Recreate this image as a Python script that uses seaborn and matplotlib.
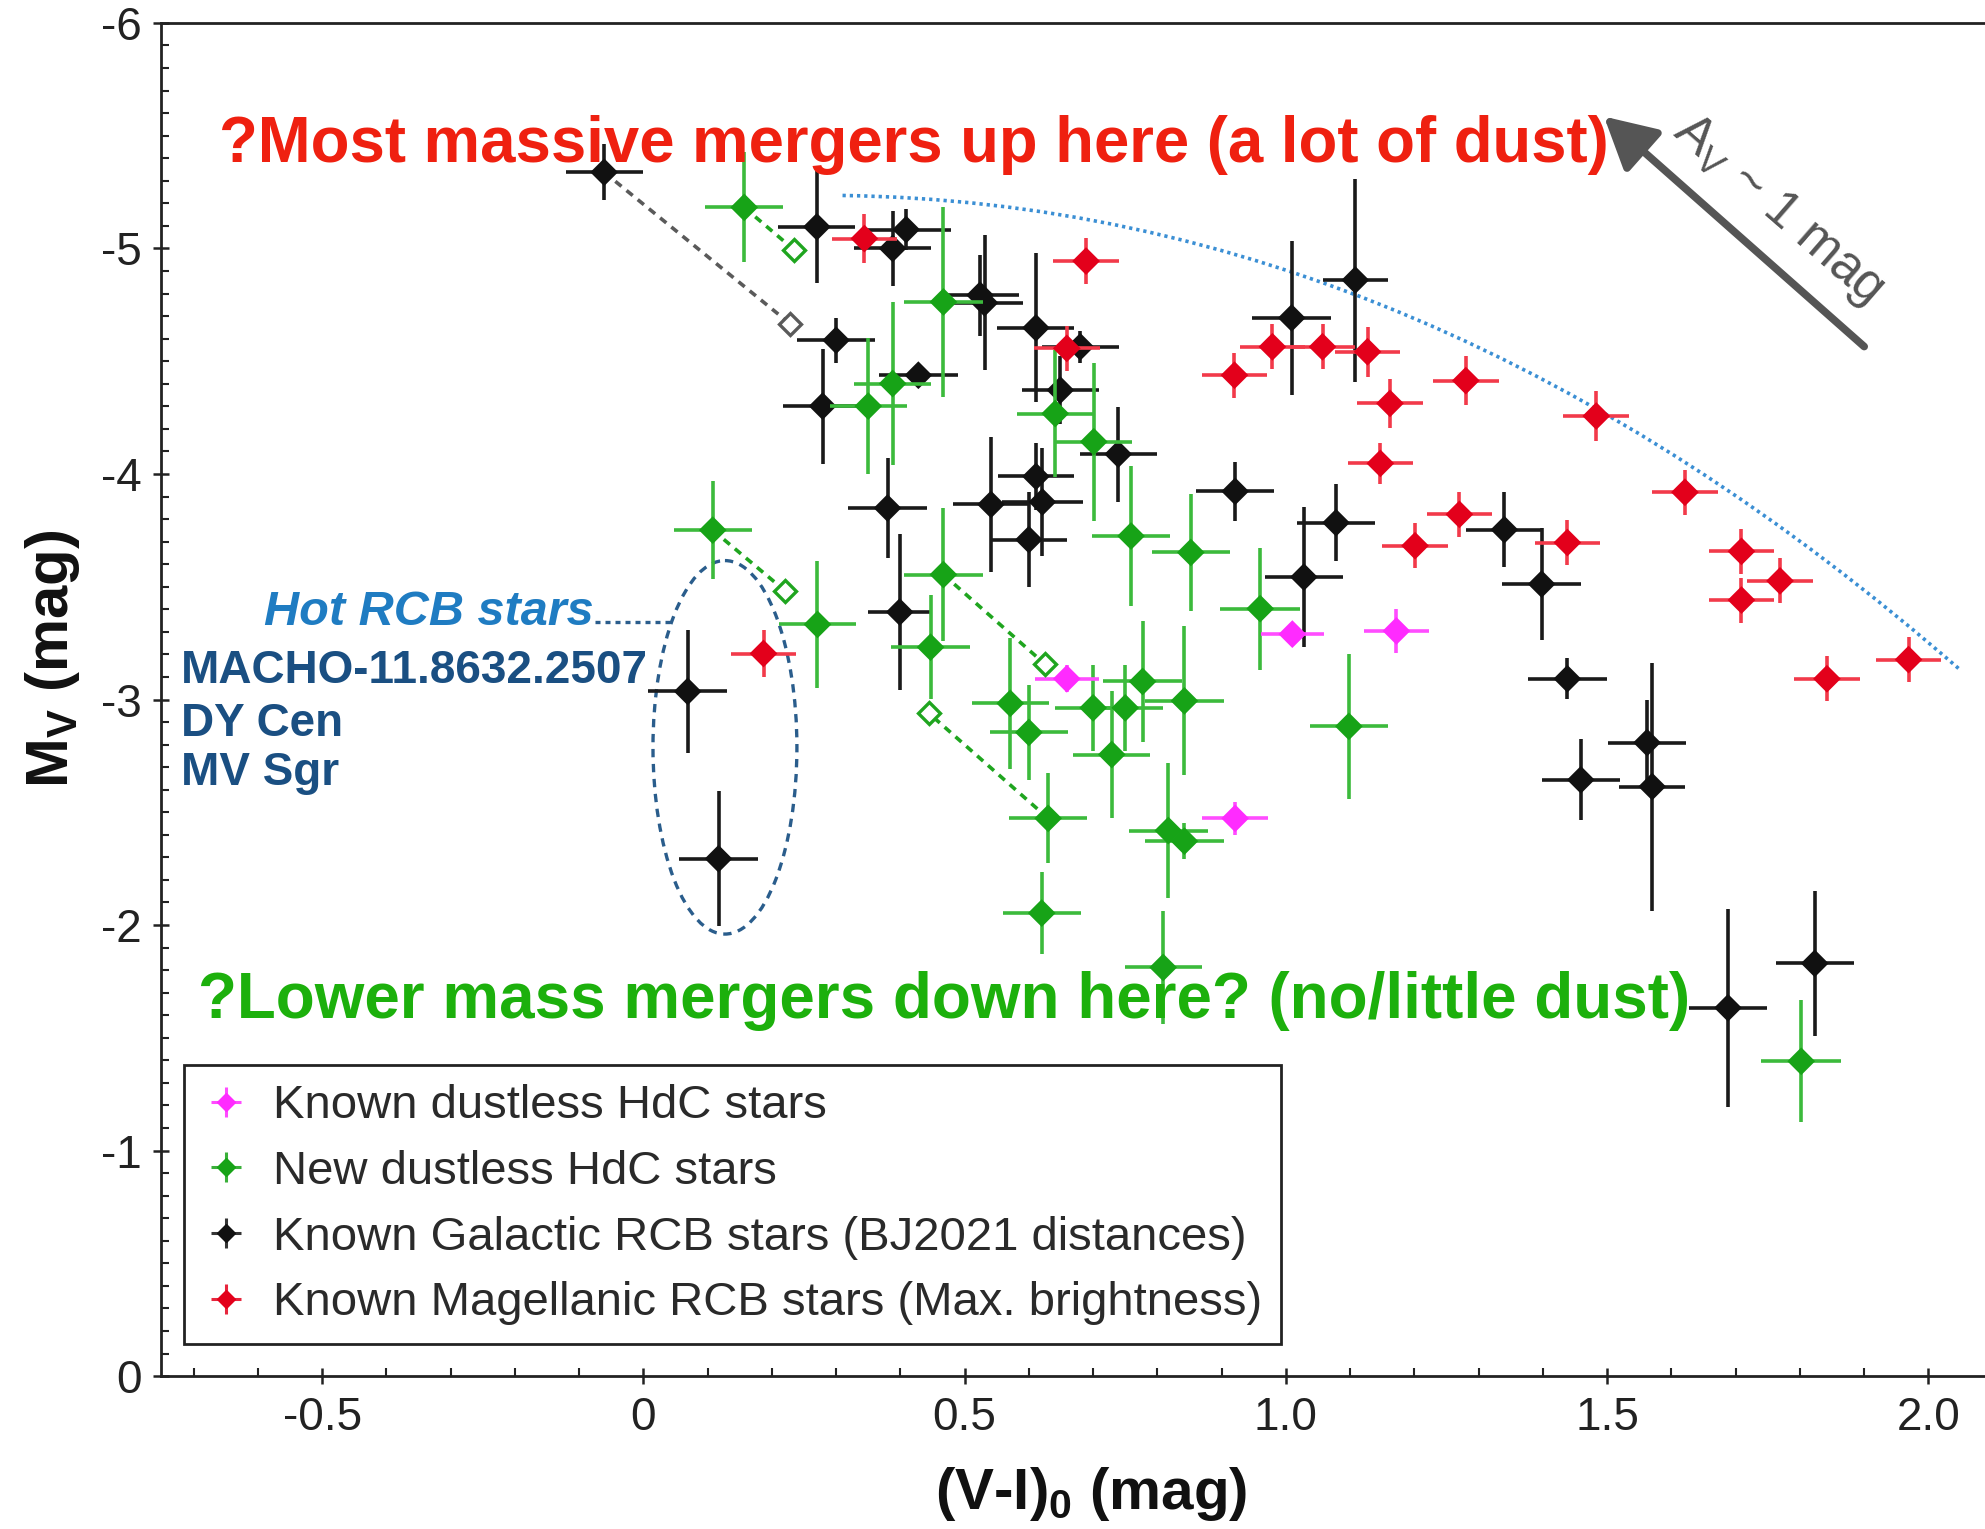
import numpy as np
import pandas as pd
import matplotlib
matplotlib.use('Agg')
import matplotlib.pyplot as plt
import seaborn as sns
from matplotlib import font_manager
from matplotlib.font_manager import FontProperties
from matplotlib.lines import Line2D
from matplotlib.patches import Ellipse, PathPatch
from matplotlib.path import Path
from matplotlib.ticker import FixedLocator, FixedFormatter, MultipleLocator

# Known dustless HdC stars (magenta)
known_hdc_x = [0.659, 1.010, 1.172, 0.921]
known_hdc_y = [-3.092, -3.290, -3.304, -2.473]
known_hdc_xerr = [0.05, 0.049, 0.051, 0.051]
known_hdc_yerr = [0.06, 0.05, 0.096, 0.074]

# New dustless HdC stars (green)
new_hdc_x = [0.157, 0.467, 0.388, 0.350, 0.641, 0.701, 0.108, 0.271, 0.467, 0.447,
             0.759, 0.852, 0.960, 0.571, 0.600, 0.700, 0.750, 0.777, 0.842, 0.729,
             0.630, 0.817, 0.842, 0.620, 0.809, 1.098, 1.802]
new_hdc_y = [-5.182, -4.763, -4.401, -4.301, -4.268, -4.143, -3.751, -3.333, -3.554, -3.232,
             -3.725, -3.652, -3.403, -2.983, -2.854, -2.963, -2.963, -3.080, -2.994, -2.756,
             -2.473, -2.419, -2.372, -2.053, -1.812, -2.881, -1.396]
new_hdc_xerr = [0.061, 0.062, 0.06, 0.06, 0.059, 0.059, 0.061, 0.06, 0.062, 0.061,
                0.061, 0.061, 0.062, 0.06, 0.061, 0.059, 0.059, 0.061, 0.061, 0.06,
                0.061, 0.061, 0.061, 0.061, 0.06, 0.061, 0.062]
new_hdc_yerr = [0.244, 0.42, 0.36, 0.30, 0.28, 0.35, 0.218, 0.28, 0.295, 0.23,
                0.31, 0.26, 0.27, 0.29, 0.21, 0.19, 0.19, 0.27, 0.33, 0.28,
                0.20, 0.30, 0.08, 0.18, 0.25, 0.32, 0.27]

# Known Galactic RCB stars (black)
galactic_x = [-0.061, 0.270, 0.409, 0.388, 0.524, 0.531, 0.611, 0.680, 1.009, 1.108,
              0.300, 0.428, 0.279, 0.649, 0.739, 0.380, 0.541, 0.611, 0.621, 0.600,
              0.921, 1.078, 1.028, 1.340, 1.398, 1.438, 1.562, 1.570, 1.459, 1.688,
              1.823, 0.399, 0.069, 0.117]
galactic_y = [-5.338, -5.096, -5.084, -5.000, -4.793, -4.759, -4.648, -4.564, -4.692, -4.860,
              -4.593, -4.438, -4.301, -4.372, -4.088, -3.849, -3.865, -3.989, -3.876, -3.709,
              -3.923, -3.784, -3.543, -3.753, -3.512, -3.092, -2.809, -2.614, -2.644, -1.633,
              -1.830, -3.388, -3.036, -2.294]
galactic_xerr = [0.06, 0.06, 0.07, 0.06, 0.061, 0.06, 0.06, 0.06, 0.061, 0.051,
                 0.061, 0.061, 0.062, 0.06, 0.06, 0.061, 0.059, 0.059, 0.063, 0.059,
                 0.061, 0.061, 0.061, 0.06, 0.061, 0.061, 0.06, 0.051, 0.061, 0.061,
                 0.061, 0.05, 0.061, 0.062]
galactic_yerr = [0.124, 0.248, 0.09, 0.166, 0.18, 0.30, 0.33, 0.07, 0.34, 0.45,
                 0.10, 0.05, 0.255, 0.15, 0.21, 0.22, 0.30, 0.15, 0.24, 0.21,
                 0.13, 0.17, 0.31, 0.165, 0.25, 0.09, 0.19, 0.55, 0.18, 0.44,
                 0.32, 0.346, 0.272, 0.30]

# Known Magellanic RCB stars (red)
magellanic_x = [0.344, 0.689, 0.659, 0.920, 0.979, 1.057, 1.127, 1.162, 1.280, 1.147,
                1.483, 1.621, 1.201, 1.270, 1.438, 1.709, 1.769, 1.709, 1.842, 1.969, 0.187]
magellanic_y = [-5.044, -4.944, -4.557, -4.438, -4.564, -4.564, -4.542, -4.313, -4.414, -4.047,
                -4.257, -3.919, -3.682, -3.821, -3.696, -3.657, -3.526, -3.441, -3.092, -3.177, -3.204]
magellanic_xerr = [0.051] * 21
magellanic_yerr = [0.107, 0.103, 0.10, 0.10, 0.10, 0.10, 0.11, 0.11, 0.11, 0.09,
                   0.11, 0.10, 0.10, 0.10, 0.10, 0.10, 0.10, 0.10, 0.10, 0.10, 0.103]

# dereddening links: filled point -> open diamond
link_from_x = [-0.061, 0.157, 0.108, 0.467, 0.630]
link_from_y = [-5.338, -5.182, -3.751, -3.554, -2.473]
link_to_x = [0.228, 0.235, 0.221, 0.625, 0.444]
link_to_y = [-4.667, -4.993, -3.481, -3.157, -2.940]
link_group = ['galactic', 'new', 'new', 'new', 'new']

# upper envelope (blue dotted curve): start, control, end of a quadratic curve
envelope_x = [0.31, 1.217, 2.05]
envelope_y = [-5.235, -5.20, -3.13]

# reddening vector
arrow_tail = (1.900, -4.565)
arrow_head = (1.495, -5.585)

hot_rcb_names = ['MACHO-11.8632.2507', 'DY Cen', 'MV Sgr']

x_ticks = [-0.5, 0.0, 0.5, 1.0, 1.5, 2.0]
x_tick_labels = ['-0.5', '0', '0.5', '1.0', '1.5', '2.0']
y_ticks = [-6, -5, -4, -3, -2, -1, 0]
y_tick_labels = ['-6', '-5', '-4', '-3', '-2', '-1', '0']

legend_labels = ['Known dustless HdC stars',
                 'New dustless HdC stars',
                 'Known Galactic RCB stars (BJ2021 distances)',
                 'Known Magellanic RCB stars (Max. brightness)']


def pick_font(names):
    for n in names:
        try:
            font_manager.findfont(FontProperties(family=n), fallback_to_default=False)
            return n
        except ValueError:
            continue
    return 'DejaVu Sans'


sns.set_theme(style='ticks')
NARROW = pick_font(['Liberation Sans Narrow', 'Arial Narrow', 'Liberation Sans'])
SANS = pick_font(['Liberation Sans', 'Arial', 'DejaVu Sans'])
plt.rcParams['font.family'] = [SANS, 'DejaVu Sans']
plt.rcParams['mathtext.fontset'] = 'custom'
plt.rcParams['mathtext.rm'] = SANS
plt.rcParams['mathtext.bf'] = SANS + ':bold'
plt.rcParams['mathtext.it'] = SANS + ':italic'

fig = plt.figure(figsize=(19.85, 15.29), dpi=100)
ax = fig.add_axes([0.081, 0.100, 0.919, 0.885])

groups = [
    ('galactic', galactic_x, galactic_y, galactic_xerr, galactic_yerr, '#111111', '#1a1a1a'),
    ('new', new_hdc_x, new_hdc_y, new_hdc_xerr, new_hdc_yerr, '#17a317', '#3cba3c'),
    ('magellanic', magellanic_x, magellanic_y, magellanic_xerr, magellanic_yerr, '#e3001b', '#f23a4a'),
    ('known', known_hdc_x, known_hdc_y, known_hdc_xerr, known_hdc_yerr, '#ff2bff', '#ff4dff'),
]
colors = {g[0]: g[5] for g in groups}

for i, (name, gx, gy, gxe, gye, mc, ec) in enumerate(groups):
    ax.errorbar(gx, gy, xerr=gxe, yerr=gye, fmt='none', ecolor=ec,
                elinewidth=2.6, capsize=0, zorder=2 + 2 * i)
    df = pd.DataFrame({'x': gx, 'y': gy})
    sns.scatterplot(data=df, x='x', y='y', ax=ax, marker='D', s=200, color=mc,
                    edgecolor='none', linewidth=0, legend=False, zorder=3 + 2 * i)

# dereddening links and open diamonds
link_colors = {'galactic': '#5a5a5a', 'new': '#1fa51f'}
for fx, fy, tx, ty, g in zip(link_from_x, link_from_y, link_to_x, link_to_y, link_group):
    c = link_colors[g]
    ax.plot([fx, tx], [fy, ty], color=c, lw=2.6, ls=(0, (2.2, 1.8)), zorder=1.5)
    ax.plot([tx], [ty], marker='D', ms=11, mfc='white', mec=c, mew=2.4, ls='', zorder=11)

# envelope curve
env_path = Path(list(zip(envelope_x, envelope_y)), [Path.MOVETO, Path.CURVE3, Path.CURVE3])
ax.add_patch(PathPatch(env_path, fill=False, ec='#3b8fd4', lw=2.6, ls=(0, (0.9, 1.1)), zorder=1))

# reddening arrow
ax.annotate('', xy=arrow_head, xytext=arrow_tail,
            arrowprops=dict(arrowstyle='-|>,head_length=1.3,head_width=0.7',
                            color='#555555', lw=5.5, shrinkA=0, shrinkB=0,
                            mutation_scale=24), zorder=12)
ax.text(1.765, -5.17, r'A$_{\mathrm{V}}$ ~ 1 mag', rotation=-41, rotation_mode='anchor',
        ha='center', va='center', color='#555555', fontsize=37, zorder=12)

# hot RCB group
ax.add_patch(Ellipse((0.127, -2.788), 0.224, 1.656, fill=False, ec='#2a5d8c',
                     lw=2.4, ls=(0, (2.5, 2)), zorder=1))
ax.plot([-0.075, 0.045], [-3.345, -3.345], color='#2a5d8c', lw=2.4, ls=(0, (1.5, 1.5)), zorder=1)
ax.text(-0.078, -3.331, 'Hot RCB stars', color='#1f7cc2', fontsize=35, fontweight='bold',
        fontstyle='italic', ha='right', va='baseline', zorder=12)
for name, yy in zip(hot_rcb_names, [-3.073, -2.838, -2.622]):
    ax.text(-0.719, yy, name, color='#1a4f82', fontsize=33, fontweight='bold',
            ha='left', va='baseline', zorder=12)

t_red = ax.text(-0.660, -5.384, '?Most massive mergers up here (a lot of dust)', color='#ef2010',
                fontsize=46, fontweight='bold', family=[NARROW, 'DejaVu Sans'],
                ha='left', va='baseline', zorder=13)
t_green = ax.text(-0.693, -1.587, '?Lower mass mergers down here? (no/little dust)', color='#1cb00c',
                  fontsize=46, fontweight='bold', family=[NARROW, 'DejaVu Sans'],
                  ha='left', va='baseline', zorder=13)

# axes, ticks
ax.set_xlim(-0.751, 2.088)
ax.set_ylim(0, -6)
ax.xaxis.set_major_locator(FixedLocator(x_ticks))
ax.xaxis.set_major_formatter(FixedFormatter(x_tick_labels))
ax.yaxis.set_major_locator(FixedLocator(y_ticks))
ax.yaxis.set_major_formatter(FixedFormatter(y_tick_labels))
ax.xaxis.set_minor_locator(MultipleLocator(0.1))
ax.yaxis.set_minor_locator(MultipleLocator(0.1))
ax.tick_params(which='major', direction='inout', length=12, width=1.8, color='#222222',
               labelsize=33, labelcolor='#222222', pad=8, top=False, right=False)
ax.tick_params(which='minor', direction='in', length=6, width=1.5, color='#222222',
               top=False, right=False)
for lab in ax.get_xticklabels() + ax.get_yticklabels():
    lab.set_family([NARROW, 'DejaVu Sans'])
for side in ['left', 'bottom', 'top']:
    ax.spines[side].set_color('#222222')
    ax.spines[side].set_linewidth(2.0)
ax.spines['right'].set_visible(False)
ax.grid(False)

ax.set_xlabel(r'(V-I)$_{\mathbf{0}}$ (mag)', fontsize=42, fontweight='bold', color='#111111')
ax.set_ylabel(r'M$_{\mathbf{V}}$ (mag)', fontsize=43, fontweight='bold', color='#111111')
ax.xaxis.set_label_coords(0.51, -0.066)
ax.yaxis.set_label_coords(-0.043, 0.53)

# legend
handles = []
for name in ['known', 'new', 'galactic', 'magellanic']:
    c = colors[name]
    cross = Line2D([], [], marker='+', ms=22, mew=2.2, color=c, ls='', alpha=0.85)
    dot = Line2D([], [], marker='D', ms=9, color=c, ls='')
    handles.append((cross, dot))
leg = ax.legend(handles, legend_labels, loc='lower left', bbox_to_anchor=(0.0125, 0.0235),
                borderaxespad=0, frameon=True, fancybox=False,
                edgecolor='#222222', framealpha=1, borderpad=0.4, labelspacing=0.46,
                handlelength=1.0, handletextpad=0.5,
                prop={'family': [NARROW, 'DejaVu Sans'], 'size': 34})
leg.get_frame().set_linewidth(2.0)
for t in leg.get_texts():
    t.set_color('#2a2a2a')

# fit the big annotations to their measured widths
fig.canvas.draw()
renderer = fig.canvas.get_renderer()
for txt, target in [(t_red, 1390), (t_green, 1490)]:
    w = txt.get_window_extent(renderer).width
    txt.set_fontsize(txt.get_fontsize() * target / w)

fig.savefig('out.png', dpi=100)
